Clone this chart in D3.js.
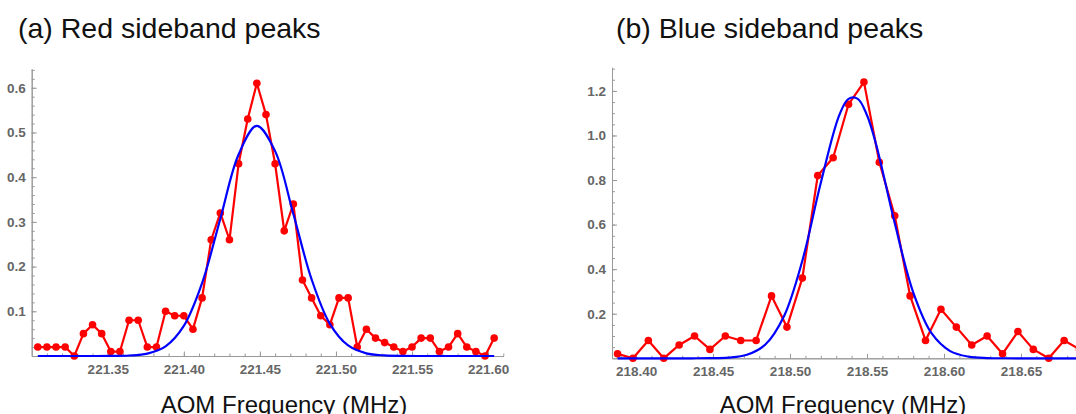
<!DOCTYPE html>
<html lang="en">
<head>
    <meta charset="UTF-8">
    <title>Sideband peaks</title>
    <script src="https://d3js.org/d3.v7.min.js"></script>
    <style>
        body { margin: 0; background: #fff; }
        .tick text { font-family: "Liberation Sans", Arial, sans-serif; font-weight: bold; font-size: 13.5px; fill: #666; }
        .axis path, .axis line { stroke: #999; }
        .title, .xlabel { font-family: "Liberation Sans", Arial, sans-serif; fill: #111; }
    </style>
</head>
<body>
<svg width="1076" height="414"></svg>

<script>
    // (a) red sideband: measured points
    const freqA = [221.304, 221.310, 221.316, 221.322, 221.328, 221.334, 221.340, 221.346, 221.352, 221.358,
        221.364, 221.370, 221.376, 221.382, 221.388, 221.394, 221.400, 221.406, 221.412, 221.418,
        221.424, 221.430, 221.436, 221.442, 221.448, 221.454, 221.460, 221.466, 221.472, 221.478,
        221.484, 221.490, 221.496, 221.502, 221.508, 221.514, 221.520, 221.526, 221.532, 221.538,
        221.544, 221.550, 221.556, 221.562, 221.568, 221.574, 221.580, 221.586, 221.592, 221.598, 221.604];
    const signalA = [0.02, 0.02, 0.02, 0.02, 0, 0.05, 0.07, 0.05, 0.01, 0.01,
        0.08, 0.08, 0.02, 0.02, 0.10, 0.09, 0.09, 0.06, 0.13, 0.26,
        0.32, 0.26, 0.43, 0.53, 0.61, 0.54, 0.43, 0.28, 0.34, 0.17,
        0.13, 0.09, 0.07, 0.13, 0.13, 0.02, 0.06, 0.04, 0.03, 0.02,
        0.01, 0.02, 0.04, 0.04, 0.01, 0.02, 0.05, 0.02, 0.01, 0, 0.04];
    // (a) fitted curve
    const fitFreqA = [221.304, 221.316, 221.328, 221.340, 221.352, 221.364, 221.376, 221.388, 221.400, 221.412,
        221.424, 221.436, 221.448, 221.460, 221.472, 221.484, 221.496, 221.508, 221.520, 221.532,
        221.544, 221.556, 221.568, 221.580, 221.592, 221.604];
    const fitA = [0, 0, 0, 0, 0.0002, 0.0011, 0.0054, 0.0217, 0.0674, 0.1631,
        0.3071, 0.4507, 0.5149, 0.4583, 0.3176, 0.1714, 0.0720, 0.0236, 0.0060, 0.0012,
        0.0002, 0, 0, 0, 0, 0];
    const xTicksA = [221.35, 221.40, 221.45, 221.50, 221.55, 221.60];
    const yTicksA = [0.1, 0.2, 0.3, 0.4, 0.5, 0.6];

    // (b) blue sideband: measured points
    const freqB = [218.388, 218.398, 218.408, 218.418, 218.428, 218.438, 218.448, 218.458, 218.468, 218.478,
        218.488, 218.498, 218.508, 218.518, 218.528, 218.538, 218.548, 218.558, 218.568, 218.578,
        218.588, 218.598, 218.608, 218.618, 218.628, 218.638, 218.648, 218.658, 218.668, 218.678, 218.688];
    const signalB = [0.02, 0, 0.08, 0, 0.06, 0.10, 0.04, 0.10, 0.08, 0.08,
        0.28, 0.14, 0.36, 0.82, 0.90, 1.14, 1.24, 0.88, 0.64, 0.28,
        0.08, 0.22, 0.14, 0.06, 0.10, 0.02, 0.12, 0.04, 0, 0.08, 0.04];
    const fitFreqB = [218.388, 218.400, 218.412, 218.424, 218.436, 218.448, 218.460, 218.472, 218.484, 218.496,
        218.508, 218.520, 218.532, 218.538, 218.544, 218.550, 218.556, 218.568, 218.580, 218.592, 218.604, 218.616,
        218.628, 218.640, 218.652, 218.664, 218.676, 218.688];
    const fitB = [0, 0, 0, 0, 0.0001, 0.0005, 0.0031, 0.0158, 0.0619, 0.1877,
        0.4380, 0.7875, 1.0910, 1.1645, 1.1645, 1.0910, 0.9576, 0.6068, 0.2962, 0.1114, 0.0323, 0.0072,
        0.0012, 0.0002, 0, 0, 0, 0];
    const xTicksB = [218.40, 218.45, 218.50, 218.55, 218.60, 218.65];
    const yTicksB = [0.2, 0.4, 0.6, 0.8, 1.0, 1.2];

    const svg = d3.select("svg");

    function drawPanel(p) {
        const x = d3.scaleLinear().domain(p.xDomain).range(p.xRange);
        const y = d3.scaleLinear().domain(p.yDomain).range(p.yRange);
        const g = svg.append("g");

        // minor ticks
        g.append("g").attr("class", "axis")
            .attr("transform", `translate(0,${p.yRange[0]})`)
            .call(d3.axisBottom(x).tickValues(p.xMinor).tickFormat("").tickSizeInner(-2.5).tickSizeOuter(0));
        g.append("g").attr("class", "axis")
            .attr("transform", `translate(${p.xRange[0]},0)`)
            .call(d3.axisLeft(y).tickValues(p.yMinor).tickFormat("").tickSizeInner(-3).tickSizeOuter(0));

        // major ticks + labels
        g.append("g").attr("class", "axis")
            .attr("transform", `translate(0,${p.yRange[0]})`)
            .call(d3.axisBottom(x).tickValues(p.xTicks).tickFormat(d3.format(".2f")).tickSizeInner(-4.5).tickSizeOuter(0).tickPadding(8));
        g.append("g").attr("class", "axis")
            .attr("transform", `translate(${p.xRange[0]},0)`)
            .call(d3.axisLeft(y).tickValues(p.yTicks).tickFormat(d3.format(".1f")).tickSizeInner(-5).tickSizeOuter(0).tickPadding(6));

        const pts = p.freq.map((f, i) => [f, p.signal[i]]);
        const fit = p.fitFreq.map((f, i) => [f, p.fit[i]]);

        g.append("path")
            .datum(pts)
            .attr("fill", "none")
            .attr("stroke", "#ff0000")
            .attr("stroke-width", 2.2)
            .attr("stroke-linejoin", "round")
            .attr("d", d3.line().x(d => x(d[0])).y(d => y(d[1])));

        g.append("g")
            .selectAll("circle")
            .data(pts)
            .enter()
            .append("circle")
            .attr("cx", d => x(d[0]))
            .attr("cy", d => y(d[1]))
            .attr("r", 3.8)
            .attr("fill", "#ff0000");

        g.append("path")
            .datum(fit)
            .attr("fill", "none")
            .attr("stroke", "#0000ff")
            .attr("stroke-width", 2.2)
            .attr("d", d3.line().curve(d3.curveCatmullRom).x(d => x(d[0])).y(d => y(d[1])));

        svg.append("text").attr("class", "title")
            .attr("x", p.titleX).attr("y", 37.5)
            .style("font-size", "28.5px")
            .text(p.title);

        // the reference crops this label at the bottom edge too
        svg.append("text").attr("class", "xlabel")
            .attr("x", p.labelX).attr("y", 413)
            .attr("text-anchor", "middle")
            .style("font-size", "24px")
            .text("AOM Frequency (MHz)");
    }

    drawPanel({
        freq: freqA, signal: signalA, fitFreq: fitFreqA, fit: fitA,
        xTicks: xTicksA, yTicks: yTicksA,
        xMinor: d3.range(31, 62).map(k => 221 + k / 100).filter(v => v <= 221.61),
        yMinor: d3.range(1, 33).map(k => k * 0.02),
        xDomain: [221.30, 221.61], xRange: [31.7, 503.3],
        yDomain: [0, 0.642], yRange: [356, 69],
        title: "(a) Red sideband peaks", titleX: 18, labelX: 284
    });

    drawPanel({
        freq: freqB, signal: signalB, fitFreq: fitFreqB, fit: fitB,
        xTicks: xTicksB, yTicks: yTicksB,
        xMinor: d3.range(39, 70).map(k => 218 + k / 100),
        yMinor: d3.range(1, 27).map(k => k * 0.05),
        xDomain: [218.3844, 218.70], xRange: [612, 1098],
        yDomain: [0, 1.306], yRange: [358.3, 67.3],
        title: "(b) Blue sideband peaks", titleX: 616, labelX: 843
    });
</script>
</body>
</html>
